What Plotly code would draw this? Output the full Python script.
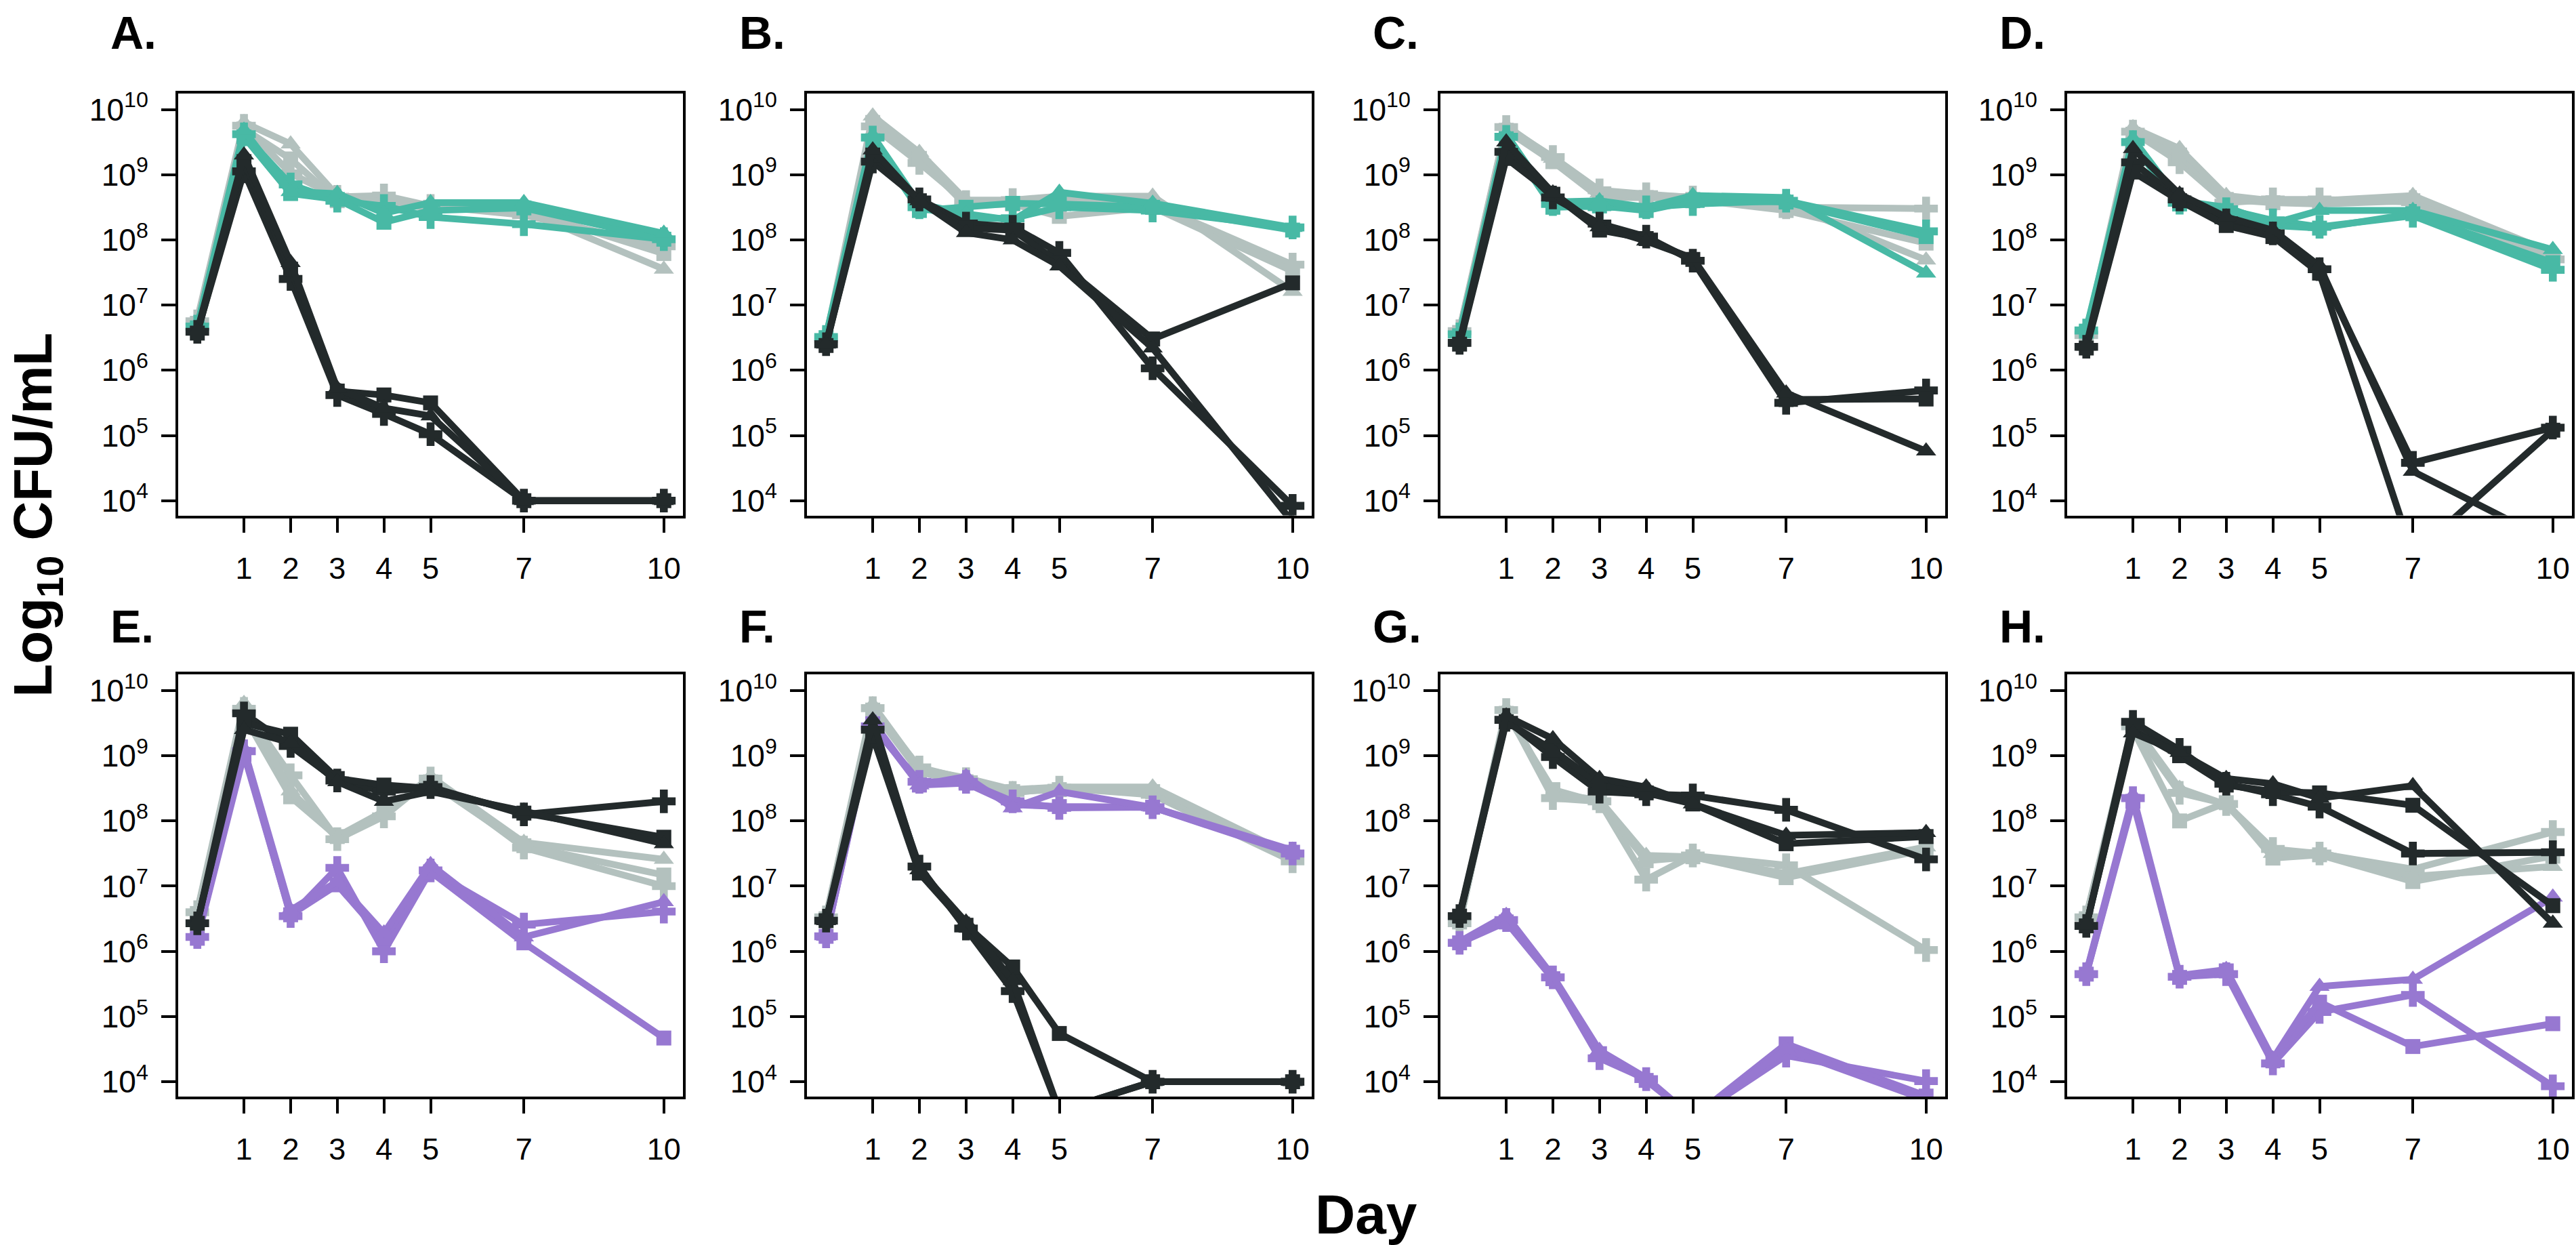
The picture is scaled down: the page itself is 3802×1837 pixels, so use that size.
import plotly.graph_objects as go

# ---------------- data (log10 CFU/mL) ----------------
DAYS = [0, 1, 2, 3, 4, 5, 7, 10]
X_TICKS = [1, 2, 3, 4, 5, 7, 10]
Y_TICK_EXP = [4, 5, 6, 7, 8, 9, 10]
Y_TICK_TEXT = ["10<sup>4</sup>", "10<sup>5</sup>", "10<sup>6</sup>", "10<sup>7</sup>",
               "10<sup>8</sup>", "10<sup>9</sup>", "10<sup>10</sup>"]
PANEL_LABELS = ["A.", "B.", "C.", "D.", "E.", "F.", "G.", "H."]
SYMBOLS = ["cross", "square", "triangle-up"]   # replicate markers: +, square, triangle

# each group: [plus replicate, square replicate, triangle replicate]
A_GRAY = [[6.75, 9.75, 9.02, 8.66, 8.68, 8.52, 8.38, 7.90],
          [6.72, 9.70, 9.24, 8.60, 8.55, 8.50, 8.46, 7.79],
          [6.78, 9.80, 9.47, 8.68, 8.58, 8.49, 8.45, 7.55]]
A_TEAL = [[6.67, 9.62, 8.85, 8.60, 8.52, 8.35, 8.24, 8.01],
          [6.65, 9.58, 8.71, 8.62, 8.27, 8.45, 8.49, 8.01],
          [6.68, 9.68, 8.74, 8.71, 8.41, 8.57, 8.57, 8.10]]
A_BLACK = [[6.59, 9.05, 7.40, 5.62, 5.33, 5.02, 4.00, 4.00],
           [6.57, 9.20, 7.55, 5.68, 5.62, 5.50, 4.00, 4.00],
           [6.60, 9.30, 7.65, 5.72, 5.42, 5.30, 4.00, 4.00]]

B_GRAY = [[6.48, 9.74, 9.18, 8.58, 8.61, 8.60, 8.55, 7.62],
          [6.45, 9.80, 9.25, 8.53, 8.55, 8.36, 8.50, 7.52],
          [6.50, 9.90, 9.34, 8.61, 8.61, 8.67, 8.67, 7.21]]
B_TEAL = [[6.51, 9.57, 8.50, 8.33, 8.33, 8.50, 8.45, 8.19],
          [6.50, 9.52, 8.45, 8.50, 8.56, 8.55, 8.50, 8.15],
          [6.53, 9.60, 8.55, 8.40, 8.30, 8.73, 8.56, 8.19]]
B_BLACK = [[6.40, 9.20, 8.62, 8.25, 8.20, 7.80, 6.03, 3.92],
           [6.38, 9.30, 8.60, 8.18, 8.15, 7.65, 6.48, 7.34],
           [6.40, 9.38, 8.60, 8.11, 8.00, 7.60, 6.34, 3.67]]

C_GRAY = [[6.60, 9.73, 9.27, 8.76, 8.70, 8.65, 8.50, 8.48],
          [6.58, 9.68, 9.20, 8.65, 8.65, 8.62, 8.45, 7.95],
          [6.62, 9.75, 9.25, 8.72, 8.68, 8.66, 8.55, 7.69]]
C_TEAL = [[6.55, 9.58, 8.55, 8.50, 8.50, 8.55, 8.60, 8.13],
          [6.53, 9.55, 8.50, 8.52, 8.45, 8.60, 8.58, 8.05],
          [6.57, 9.62, 8.58, 8.60, 8.50, 8.68, 8.65, 7.49]]
C_BLACK = [[6.42, 9.35, 8.65, 8.25, 8.05, 7.68, 5.50, 5.69],
           [6.40, 9.25, 8.70, 8.15, 8.02, 7.70, 5.55, 5.56],
           [6.43, 9.50, 8.72, 8.20, 7.98, 7.72, 5.65, 4.76]]

D_GRAY = [[6.54, 9.66, 9.19, 8.57, 8.62, 8.62, 8.58, 7.70],
          [6.52, 9.62, 9.30, 8.62, 8.57, 8.55, 8.60, 7.64],
          [6.56, 9.72, 9.40, 8.68, 8.60, 8.60, 8.68, 7.80]]
D_TEAL = [[6.61, 9.50, 8.57, 8.47, 8.30, 8.20, 8.37, 7.54],
          [6.60, 9.45, 8.55, 8.45, 8.22, 8.18, 8.40, 7.65],
          [6.63, 9.55, 8.60, 8.50, 8.25, 8.45, 8.45, 7.85]]
D_BLACK = [[6.36, 9.19, 8.62, 8.30, 8.10, 7.55, 4.58, 5.12],
           [6.34, 9.04, 8.60, 8.22, 8.05, 7.49, 3.17, 5.08],
           [6.37, 9.40, 8.70, 8.35, 8.15, 7.60, 4.45, 3.36]]

E_GRAY = [[6.60, 9.72, 8.70, 7.72, 8.07, 8.65, 7.59, 7.00],
          [6.58, 9.62, 8.37, 7.76, 8.15, 8.60, 7.62, 7.17],
          [6.62, 9.80, 8.46, 7.74, 8.10, 8.68, 7.67, 7.41]]
E_PURPLE = [[6.22, 9.07, 6.54, 7.28, 6.00, 7.24, 6.41, 6.61],
            [6.20, 9.02, 6.56, 7.02, 6.20, 7.22, 6.13, 4.67],
            [6.24, 9.10, 6.63, 7.07, 6.28, 7.33, 6.22, 6.76]]
E_BLACK = [[6.43, 9.65, 9.15, 8.62, 8.45, 8.52, 8.10, 8.30],
           [6.43, 9.50, 9.33, 8.65, 8.55, 8.50, 8.12, 7.75],
           [6.45, 9.40, 9.20, 8.60, 8.30, 8.45, 8.15, 7.65]]

F_GRAY = [[6.52, 9.73, 8.82, 8.64, 8.43, 8.51, 8.40, 7.38],
          [6.50, 9.70, 8.75, 8.60, 8.45, 8.48, 8.45, 7.45],
          [6.53, 9.78, 8.80, 8.66, 8.48, 8.52, 8.52, 7.47]]
F_PURPLE = [[6.23, 9.45, 8.60, 8.60, 8.30, 8.20, 8.21, 7.50],
            [6.23, 9.49, 8.55, 8.58, 8.25, 8.22, 8.21, 7.52],
            [6.23, 9.52, 8.55, 8.68, 8.20, 8.45, 8.21, 7.55]]
F_BLACK = [[6.47, 9.40, 7.30, 6.35, 5.39, 3.55, 4.00, 4.00],
           [6.47, 9.30, 7.20, 6.40, 5.76, 4.74, 4.00, 4.00],
           [6.47, 9.55, 7.25, 6.45, 5.55, 3.55, 4.00, 4.00]]

G_GRAY = [[6.43, 9.70, 8.35, 8.30, 7.10, 7.47, 7.32, 6.02],
          [6.45, 9.65, 8.48, 8.28, 7.39, 7.45, 7.13, 7.56],
          [6.47, 9.72, 8.42, 8.32, 7.47, 7.45, 7.19, 7.60]]
G_PURPLE = [[6.13, 6.48, 5.60, 4.36, 4.04, 3.45, 4.40, 4.01],
            [6.13, 6.45, 5.58, 4.43, 4.02, 3.45, 4.58, 3.78],
            [6.15, 6.55, 5.62, 4.48, 4.06, 3.45, 4.50, 3.72]]
G_BLACK = [[6.54, 9.55, 8.98, 8.45, 8.41, 8.39, 8.17, 7.41],
           [6.54, 9.52, 9.09, 8.56, 8.43, 8.26, 7.65, 7.76],
           [6.56, 9.61, 9.26, 8.65, 8.52, 8.26, 7.78, 7.82]]

H_GRAY = [[6.52, 9.45, 8.43, 8.26, 7.57, 7.50, 7.26, 7.83],
          [6.50, 9.40, 8.00, 8.28, 7.43, 7.48, 7.07, 7.46],
          [6.54, 9.48, 8.50, 8.25, 7.50, 7.52, 7.15, 7.30]]
H_PURPLE = [[5.65, 8.35, 5.61, 5.65, 4.28, 5.07, 5.33, 3.93],
            [5.65, 8.30, 5.60, 5.70, 4.32, 5.22, 4.54, 4.89],
            [5.67, 8.39, 5.63, 5.72, 4.35, 5.46, 5.57, 6.83]]
H_BLACK = [[6.39, 9.52, 9.09, 8.57, 8.41, 8.22, 7.50, 7.52],
           [6.39, 9.40, 9.00, 8.55, 8.45, 8.43, 8.24, 6.70],
           [6.40, 9.35, 9.05, 8.65, 8.57, 8.35, 8.54, 6.43]]

# ---------------- style ----------------
GRAY = "#b3c1be"
TEAL = "#48b9a5"
PURPLE = "#9778d1"
BLACK = "#232a2b"
FONT = "Liberation Sans, Arial, Helvetica, sans-serif"

W, H = 3802, 1837
COL_LEFT = [263, 1191, 2126, 3051]
PANEL_W = 745
ROW_TOP = [130.5, 993.5]
PANEL_H = 627
LETTER_DX = -102
LETTER_Y = [40, 922]

panels = [
    (A_GRAY, A_TEAL, TEAL, A_BLACK),
    (B_GRAY, B_TEAL, TEAL, B_BLACK),
    (C_GRAY, C_TEAL, TEAL, C_BLACK),
    (D_GRAY, D_TEAL, TEAL, D_BLACK),
    (E_GRAY, E_PURPLE, PURPLE, E_BLACK),
    (F_GRAY, F_PURPLE, PURPLE, F_BLACK),
    (G_GRAY, G_PURPLE, PURPLE, G_BLACK),
    (H_GRAY, H_PURPLE, PURPLE, H_BLACK),
]

fig = go.Figure()
layout = dict(
    width=W, height=H,
    margin=dict(l=0, r=0, t=0, b=0),
    paper_bgcolor="white", plot_bgcolor="white",
    showlegend=False,
    font=dict(family=FONT, color="black"),
)
annotations = []

MSIZE = {"cross": 29, "square": 22, "triangle-up": 26}

for i, (gray, col, colc, black) in enumerate(panels):
    r, c = divmod(i, 4)
    n = i + 1
    xname = "xaxis" if n == 1 else f"xaxis{n}"
    yname = "yaxis" if n == 1 else f"yaxis{n}"
    xref = "x" if n == 1 else f"x{n}"
    yref = "y" if n == 1 else f"y{n}"
    x0 = COL_LEFT[c] / W
    x1 = (COL_LEFT[c] + PANEL_W) / W
    y1 = 1 - ROW_TOP[r] / H
    y0 = 1 - (ROW_TOP[r] + PANEL_H) / H
    common = dict(showline=True, linewidth=4, linecolor="black", mirror=True,
                  ticks="outside", ticklen=21, tickwidth=4, tickcolor="black",
                  showgrid=False, zeroline=False, fixedrange=True)
    layout[xname] = dict(domain=[x0, x1], range=[-0.41, 10.41], anchor=yref,
                         tickmode="array", tickvals=X_TICKS,
                         ticktext=[str(v) for v in X_TICKS],
                         tickfont=dict(size=45, family=FONT, color="black"),
                         ticklabelstandoff=14, **common)
    layout[yname] = dict(domain=[y0, y1], range=[3.773, 10.248], anchor=xref,
                         tickmode="array", tickvals=Y_TICK_EXP, ticktext=Y_TICK_TEXT,
                         tickfont=dict(size=46, family=FONT, color="black"),
                         ticklabelstandoff=10, **common)
    for group, color in ((gray, GRAY), (col, colc), (black, BLACK)):
        for vals, sym in zip(group, SYMBOLS):
            fig.add_trace(go.Scatter(
                x=DAYS, y=vals, mode="lines+markers", xaxis=xref, yaxis=yref,
                line=dict(color=color, width=10),
                marker=dict(symbol=sym, size=MSIZE[sym], color=color, line=dict(width=0)),
                hoverinfo="skip"))
    annotations.append(dict(
        text=f"<b>{PANEL_LABELS[i]}</b>", xref="paper", yref="paper",
        x=(COL_LEFT[c] + LETTER_DX) / W, y=1 - LETTER_Y[r] / H,
        xanchor="left", yanchor="middle", showarrow=False,
        font=dict(size=68, family=FONT, color="black")))

annotations.append(dict(
    text="<b>Log<sub>10</sub> CFU/mL</b>", xref="paper", yref="paper",
    x=2 / W, y=1 - 757 / H, xanchor="left", yanchor="middle", textangle=-90,
    showarrow=False, font=dict(size=80, family=FONT, color="black")))
annotations.append(dict(
    text="<b>Day</b>", xref="paper", yref="paper",
    x=2017 / W, y=1 - 1795 / H, xanchor="center", yanchor="middle",
    showarrow=False, font=dict(size=82, family=FONT, color="black")))

layout["annotations"] = annotations
fig.update_layout(**layout)
fig.write_html(
    "out.html",
    config={"displayModeBar": False},
    post_script="document.body.style.margin='0';document.body.style.overflow='hidden';",
)
